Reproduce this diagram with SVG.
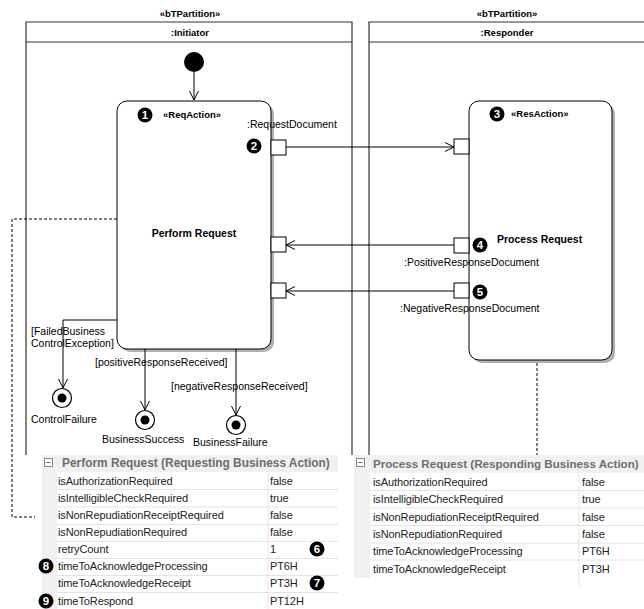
<svg xmlns="http://www.w3.org/2000/svg" width="644" height="609" viewBox="0 0 644 609">
<defs>
<marker id="arr" markerWidth="10" markerHeight="10" refX="9" refY="5" orient="auto" markerUnits="userSpaceOnUse">
<path d="M0,0.5 L9,5 L0,9.5" fill="none" stroke="#000" stroke-width="1"/>
</marker>
<style>
text{font-family:"Liberation Sans",Arial,sans-serif;fill:#000}
.b{font-weight:bold}
.lbl{font-size:10.5px}
.ttl{font-size:9.5px;font-weight:bold}
.part{fill:none;stroke:#333;stroke-width:1.2}
.line{fill:none;stroke:#000;stroke-width:1}
.dash{fill:none;stroke:#000;stroke-width:1;stroke-dasharray:3,2}
.port{fill:#fff;stroke:#000;stroke-width:1}
.act{fill:#fff;stroke:#000;stroke-width:1}
.shadow{fill:#b0b0b0}
.badge circle{fill:#000}
.badge text{fill:#fff;font-size:11.5px;font-weight:bold;text-anchor:middle}
.gut{fill:#f0f0f0}
.cell{fill:#fff}
.sep{stroke:#e4e4e4;stroke-width:1}
.hdr{font-size:11.9px;font-weight:bold;fill:#6e6e6e}
.row{font-size:11px;fill:#222;letter-spacing:-0.1px}
</style>
</defs>
<rect width="644" height="609" fill="#fff"/>

<g id="partition-initiator">
<text class="ttl" x="190" y="17" text-anchor="middle">«bTPartition»</text>
<path class="part" d="M26,455 V22 H352 V455 M26,42 H352"/>
<text class="ttl" x="190" y="36" text-anchor="middle">:Initiator</text>
</g>
<g id="partition-responder">
<text class="ttl" x="507" y="17" text-anchor="middle">«bTPartition»</text>
<path class="part" d="M369,455 V22 H660 M369,42 H660"/>
<text class="ttl" x="507" y="36" text-anchor="middle">:Responder</text>
</g>

<g id="initial">
<circle cx="194" cy="62" r="10" fill="#000"/>
</g>

<g id="perform-request">
<rect class="shadow" x="120" y="104" width="154" height="248" rx="10"/>
<rect class="act" x="117" y="101" width="154" height="248" rx="10"/>
<text class="ttl" x="163" y="118">«ReqAction»</text>
<text class="lbl b" x="194" y="237" text-anchor="middle">Perform Request</text>
</g>
<g id="port-request-out">
<rect class="port" x="271" y="140" width="15" height="15"/>
<text class="lbl" x="247" y="128">:RequestDocument</text>
</g>
<g id="port-pos-in"><rect class="port" x="271" y="237" width="15" height="15"/></g>
<g id="port-neg-in"><rect class="port" x="271" y="283" width="15" height="15"/></g>

<g id="process-request">
<rect class="shadow" x="472" y="104" width="143" height="259" rx="10"/>
<rect class="act" x="469" y="101" width="143" height="259" rx="10"/>
<text class="ttl" x="511" y="117">«ResAction»</text>
<text class="lbl b" x="497" y="243">Process Request</text>
</g>
<g id="port-request-in"><rect class="port" x="454" y="139" width="15" height="15"/></g>
<g id="port-pos-out">
<rect class="port" x="454" y="238" width="15" height="15"/>
<text class="lbl" x="404" y="266">:PositiveResponseDocument</text>
</g>
<g id="port-neg-out">
<rect class="port" x="454" y="283" width="15" height="15"/>
<text class="lbl" x="400" y="312">:NegativeResponseDocument</text>
</g>

<g id="control-failure">
<circle cx="62" cy="398" r="9.5" fill="#fff" stroke="#000" stroke-width="1.2"/>
<circle cx="62" cy="398" r="4.5" fill="#000"/>
<text class="lbl" x="31" y="423">ControlFailure</text>
</g>
<g id="business-success">
<circle cx="145" cy="420" r="9.5" fill="#fff" stroke="#000" stroke-width="1.2"/>
<circle cx="145" cy="420" r="4.5" fill="#000"/>
<text class="lbl" x="102" y="443">BusinessSuccess</text>
</g>
<g id="business-failure">
<circle cx="236" cy="425" r="9.5" fill="#fff" stroke="#000" stroke-width="1.2"/>
<circle cx="236" cy="425" r="4.5" fill="#000"/>
<text class="lbl" x="193" y="446">BusinessFailure</text>
</g>

<g id="connectors">
<line class="line" x1="194" y1="72" x2="194" y2="100" marker-end="url(#arr)"/>
<line class="line" x1="286" y1="147" x2="454" y2="147" marker-end="url(#arr)"/>
<line class="line" x1="454" y1="245" x2="286" y2="245" marker-end="url(#arr)"/>
<line class="line" x1="454" y1="291" x2="286" y2="291" marker-end="url(#arr)"/>
<path class="line" d="M117,320 H63 V388" marker-end="url(#arr)"/>
<line class="line" x1="145" y1="349" x2="145" y2="410" marker-end="url(#arr)"/>
<line class="line" x1="236" y1="349" x2="236" y2="415" marker-end="url(#arr)"/>
<path class="dash" d="M117,219 H12 V517 H35"/>
<line class="dash" x1="537" y1="363" x2="537" y2="455"/>
<text class="lbl" x="31" y="335">[FailedBusiness</text>
<text class="lbl" x="31" y="347">ControlException]</text>
<text class="lbl" x="95" y="366">[positiveResponseReceived]</text>
<text class="lbl" x="171" y="390">[negativeResponseReceived]</text>
</g>

<g id="table-perform">
<rect class="gut" x="42" y="455" width="296" height="154"/>
<rect class="cell" x="57" y="472" width="281" height="137"/>
<g class="sep">
<line x1="57" y1="489.5" x2="338" y2="489.5"/>
<line x1="57" y1="507" x2="338" y2="507"/>
<line x1="57" y1="524.5" x2="338" y2="524.5"/>
<line x1="57" y1="541.5" x2="338" y2="541.5"/>
<line x1="57" y1="558.5" x2="338" y2="558.5"/>
<line x1="57" y1="575.5" x2="338" y2="575.5"/>
<line x1="57" y1="592.5" x2="338" y2="592.5"/>
<line x1="268" y1="472" x2="268" y2="609"/>
</g>
<rect x="44.5" y="458.5" width="8" height="8" fill="#fff" stroke="#888" stroke-width="1"/>
<line x1="46.5" y1="462.5" x2="50.5" y2="462.5" stroke="#666" stroke-width="1"/>
<text class="hdr" x="62" y="467">Perform Request (Requesting Business Action)</text>
<text class="row" x="58" y="485">isAuthorizationRequired</text><text class="row" x="270" y="485">false</text>
<text class="row" x="58" y="502">isIntelligibleCheckRequired</text><text class="row" x="270" y="502">true</text>
<text class="row" x="58" y="519">isNonRepudiationReceiptRequired</text><text class="row" x="270" y="519">false</text>
<text class="row" x="58" y="536">isNonRepudiationRequired</text><text class="row" x="270" y="536">false</text>
<text class="row" x="58" y="553">retryCount</text><text class="row" x="270" y="553">1</text>
<text class="row" x="58" y="570">timeToAcknowledgeProcessing</text><text class="row" x="270" y="570">PT6H</text>
<text class="row" x="58" y="587">timeToAcknowledgeReceipt</text><text class="row" x="270" y="587">PT3H</text>
<text class="row" x="58" y="605">timeToRespond</text><text class="row" x="270" y="605">PT12H</text>
</g>

<g id="table-process">
<rect class="gut" x="354" y="455" width="290" height="123"/>
<rect class="cell" x="370" y="473" width="274" height="105"/>
<g class="sep">
<line x1="370" y1="490.5" x2="644" y2="490.5"/>
<line x1="370" y1="508" x2="644" y2="508"/>
<line x1="370" y1="525.5" x2="644" y2="525.5"/>
<line x1="370" y1="543" x2="644" y2="543"/>
<line x1="370" y1="560" x2="644" y2="560"/>
<line x1="579" y1="473" x2="579" y2="586"/>
</g>
<rect x="356.5" y="458.5" width="8" height="8" fill="#fff" stroke="#888" stroke-width="1"/>
<line x1="358.5" y1="462.5" x2="362.5" y2="462.5" stroke="#666" stroke-width="1"/>
<text class="hdr" x="373" y="468" style="font-size:11.6px">Process Request (Responding Business Action)</text>
<text class="row" x="373" y="486">isAuthorizationRequired</text><text class="row" x="582" y="486">false</text>
<text class="row" x="373" y="503">isIntelligibleCheckRequired</text><text class="row" x="582" y="503">true</text>
<text class="row" x="373" y="521">isNonRepudiationReceiptRequired</text><text class="row" x="582" y="521">false</text>
<text class="row" x="373" y="538">isNonRepudiationRequired</text><text class="row" x="582" y="538">false</text>
<text class="row" x="373" y="555">timeToAcknowledgeProcessing</text><text class="row" x="582" y="555">PT6H</text>
<text class="row" x="373" y="573">timeToAcknowledgeReceipt</text><text class="row" x="582" y="573">PT3H</text>
</g>

<g id="badges">
<g class="badge"><circle cx="145" cy="115" r="7.5"/><text x="145" y="119">1</text></g>
<g class="badge"><circle cx="254" cy="146" r="7.5"/><text x="254" y="150">2</text></g>
<g class="badge"><circle cx="497" cy="114" r="7.5"/><text x="497" y="118">3</text></g>
<g class="badge"><circle cx="480" cy="245" r="7.5"/><text x="480" y="249">4</text></g>
<g class="badge"><circle cx="480" cy="292" r="7.5"/><text x="480" y="296">5</text></g>
<g class="badge"><circle cx="317" cy="549" r="7.5"/><text x="317" y="553">6</text></g>
<g class="badge"><circle cx="317" cy="583" r="7.5"/><text x="317" y="587">7</text></g>
<g class="badge"><circle cx="46" cy="566" r="7.5"/><text x="46" y="570">8</text></g>
<g class="badge"><circle cx="46" cy="601" r="7.5"/><text x="46" y="605">9</text></g>
</g>
</svg>
